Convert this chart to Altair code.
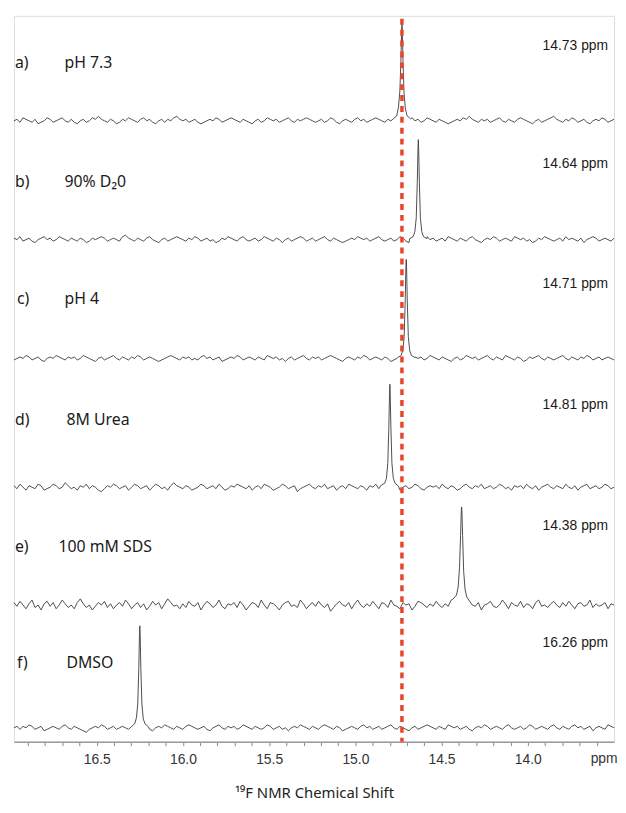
import altair as alt
import pandas as pd
import numpy as np

# ---------------- data ----------------
letters = ["a)", "b)", "c)", "d)", "e)", "f)"]
conditions = ["pH 7.3", "90% D\u20820", "pH 4", "8M Urea", "100 mM SDS", "DMSO"]
shift_labels = ["14.73 ppm", "14.64 ppm", "14.71 ppm", "14.81 ppm", "14.38 ppm", "16.26 ppm"]
peak_ppm = [14.73, 14.635, 14.705, 14.80, 14.384, 16.25]
ref_ppm = 14.73

# peak shape: offsets (ppm) from peak centre and heights (% of full scale)
peak_dx = [-0.05, -0.03, -0.02, -0.012, -0.006, -0.002, 0, 0.002, 0.006, 0.012, 0.02, 0.03, 0.05]
peak_a = [2, 5, 12, 28, 62, 92, 98, 90, 60, 30, 14, 5, 2]
peak_b = [1, 3, 8, 22, 58, 92, 101, 92, 58, 22, 8, 3, 1]
peak_c = [1, 3, 8, 22, 58, 92, 100, 92, 58, 22, 8, 3, 1]
peak_d = [1, 4, 9, 24, 60, 94, 104, 94, 60, 24, 9, 4, 2]
peak_e = [3, 8, 16, 34, 70, 94, 99, 94, 70, 38, 18, 10, 6]
peak_f = [1, 4, 9, 24, 60, 94, 103, 94, 60, 24, 10, 4, 1]

# baseline noise (in px-like noise units) along each trace, left (high ppm) to right
noise_a = [0,1,-1,2,1,0,-1,1,-2,-1,0,2,1,-1,0,1,2,0,-1,1,
           -1,-2,0,1,-1,0,2,1,3,1,0,-1,1,0,-2,-1,1,0,2,1,
           0,-1,1,2,0,1,-1,-2,0,1,-1,1,0,2,3,1,0,1,-1,0,
           1,-1,-2,-1,0,1,0,2,1,-1,0,1,2,1,0,-1,1,0,-1,-2,
           0,1,-1,0,2,1,0,1,-1,0,1,2,0,-1,1,0,1,2,1,0,
           -1,0,1,-1,0,2,1,-1,-2,0,1,0,-1,1,2,0,1,-1,0,1,
           2,1,0,-1,1,0,-2,-1,0,1,-1,1,2,0,1,-1,0,2,1,0,
           -1,1,0,-1,-2,-1,0,1,0,2,1,3,1,0,-1,1,0,1,-1,0,
           1,2,0,-1,1,0,-1,1,2,1,0,-1,-2,0,1,-1,0,1,2,3,
           1,0,-1,1,0,2,1,-1,0,1,-1,-2,0,1,0,2,1,-1,0,1]
noise_b = [1,0,2,-1,0,1,-1,-2,0,1,2,0,1,-1,0,2,1,0,-1,1,
           0,-1,1,0,-2,-1,1,0,1,2,1,-1,0,1,0,-1,2,3,1,0,
           -1,1,0,-1,1,2,0,-1,-2,0,1,-1,0,1,2,1,0,-1,1,0,
           2,1,-1,0,1,-1,0,-2,-1,1,0,2,1,0,-1,1,2,0,-1,0,
           1,-1,0,2,1,0,-1,1,0,-2,0,1,-1,0,1,2,1,-1,0,1,
           -1,0,1,2,0,-1,1,0,-1,-2,-1,0,1,0,2,1,0,1,-1,0,
           1,2,0,-1,0,1,-1,0,2,1,-1,-2,0,1,-1,0,1,2,0,1,
           -1,0,1,-1,2,1,0,-1,1,0,-1,1,2,0,-1,-2,0,1,0,2,
           1,-1,0,1,0,-1,2,1,0,1,-1,0,-2,-1,1,0,2,1,0,-1,
           0,1,-1,2,0,1,0,-1,1,-2,0,1,2,1,-1,0,1,0,-1,1]
noise_c = [-1,0,1,0,2,1,-1,0,1,-1,-2,0,1,0,2,1,0,-1,1,0,
           1,-1,0,2,1,0,-1,-2,0,1,-1,0,1,2,0,-1,1,0,-1,1,
           0,2,1,-1,0,1,0,-1,-2,-1,0,1,2,1,0,-1,1,0,1,-1,
           0,-1,1,2,0,1,-1,0,1,-2,-1,0,1,0,2,1,-1,0,1,0,
           -1,1,0,-1,2,1,0,1,-1,0,-2,0,1,-1,0,1,2,0,-1,1,
           0,1,-1,0,1,2,1,0,-1,-2,0,1,0,-1,1,0,2,1,-1,0,
           1,0,-1,1,0,-2,-1,0,1,2,1,0,-1,1,0,1,-1,0,2,1,
           0,-1,1,0,-1,-2,0,1,-1,0,2,1,0,1,-1,0,1,2,0,-1,
           1,0,-1,2,1,0,-1,1,0,-2,-1,1,0,1,2,0,-1,1,0,-1,
           0,1,2,0,-1,1,0,-1,1,0,2,1,-1,0,1,-1,0,1,0,-1]
noise_d = [1,-1,2,0,-2,1,0,-1,2,1,-2,-1,0,2,1,-1,0,3,1,-1,
           0,-2,1,0,2,-1,1,0,-2,-3,-1,1,0,2,1,-1,0,1,-2,0,
           2,1,-1,0,1,-2,0,2,1,-1,0,-2,1,3,1,0,-1,1,0,-2,
           -1,0,2,1,-1,0,1,-1,2,0,-2,-1,1,0,2,1,0,-1,1,-2,
           0,1,-1,2,1,0,-2,-1,0,2,1,-1,0,1,-3,-1,0,1,2,0,
           -1,1,0,2,-1,0,1,-2,0,1,-1,2,1,0,-1,1,0,-2,1,0,
           2,-1,0,1,-1,0,2,1,-2,0,1,-1,0,2,1,-1,-2,0,1,0,
           1,-1,2,0,-1,1,0,-2,-1,1,2,0,-1,1,0,2,-1,0,1,-1,
           0,2,1,-1,0,-2,1,0,1,-1,2,0,-1,1,-2,0,1,2,0,-1,
           1,0,-1,2,0,-1,1,-2,0,1,2,-1,0,1,-1,0,2,1,-1,0]
noise_e = [2,-1,3,0,-3,1,4,-2,0,-4,1,3,-1,2,-3,0,4,1,-2,0,
           -3,2,5,1,-2,0,-4,-1,2,0,3,-2,1,-3,0,2,-1,4,1,-3,
           0,2,-2,1,-4,-1,3,0,2,-3,1,5,2,-1,0,-3,1,-2,3,0,
           -1,2,-4,0,3,1,-2,0,4,-1,-3,1,0,2,-2,3,0,-4,-1,2,
           1,-2,4,0,-3,2,1,-1,-4,0,2,3,-1,0,-2,4,1,-3,0,2,
           -1,3,0,-2,1,-5,-2,1,3,0,-1,2,-3,1,4,0,-2,1,-1,3,
           0,-3,2,1,-2,4,0,-1,-3,2,0,1,-4,-1,3,2,0,-2,1,-1,
           3,0,-2,1,-1,4,2,-3,0,1,-2,3,0,-1,2,-4,0,1,3,-1,
           -2,0,4,1,-3,2,0,-1,3,-2,1,0,-3,2,4,-1,0,-2,1,3,
           0,-2,2,-1,3,0,-3,1,2,-1,0,4,-2,1,-1,0,2,-3,1,0]
noise_f = [0,1,-1,1,0,2,1,-1,0,1,-2,-1,0,1,0,-1,1,2,0,-1,
           1,0,-1,-2,-3,-1,0,1,0,2,1,-1,0,1,-1,0,1,0,-1,1,
           2,0,-1,1,0,-1,-2,0,1,0,2,1,0,-1,1,0,-1,1,2,1,
           0,-1,0,1,-1,-2,0,1,2,0,-1,1,0,1,-1,0,2,1,0,-1,
           1,0,-1,0,2,1,-1,0,1,-1,0,-2,0,1,0,2,1,0,-1,1,
           0,-1,1,2,1,0,-1,1,0,-2,-1,0,1,0,-1,1,2,0,1,-1,
           0,1,-1,0,1,2,0,-1,1,0,-1,-2,0,1,-1,0,1,2,1,0,
           -1,1,0,-1,2,1,0,1,-1,0,1,-1,-2,0,1,0,2,1,-1,0,
           1,0,-1,1,2,0,-1,0,1,-1,0,2,1,-1,0,1,0,-1,1,2,
           0,-1,1,0,-1,1,2,0,1,-1,0,1,-2,0,1,0,-1,2,1,0]

minor_ticks = [16.9, 16.8, 16.7, 16.6, 16.5, 16.4, 16.3, 16.2, 16.1, 16.0, 15.9, 15.8, 15.7, 15.6,
               15.5, 15.4, 15.3, 15.2, 15.1, 15.0, 14.9, 14.8, 14.7, 14.6, 14.5, 14.4, 14.3, 14.2,
               14.1, 14.0, 13.9, 13.8, 13.7, 13.6]

# ---------------- layout (not data) ----------------
X_MIN, X_MAX = 13.5, 16.98
W, H = 606, 733
Y_TOP = 7.33                       # 100 px per full-scale unit
baselines = [6.27, 5.07, 3.87, 2.57, 1.38, 0.14]
noise_unit = [1.5, 1.5, 1.5, 1.5, 1.25, 1.5]   # px per noise unit
letter_y = [6.85, 5.65, 4.47, 3.25, 1.97, 0.79]
shift_y = [7.03, 5.83, 4.62, 3.40, 2.18, 1.00]
name_x = [51, 51, 51, 53, 45, 53]
letter_x = [1, 1, 3, 1, 1, 3]

peaks = [peak_a, peak_b, peak_c, peak_d, peak_e, peak_f]
noises = [noise_a, noise_b, noise_c, noise_d, noise_e, noise_f]

rows = []
for i, (nz, pk, pc) in enumerate(zip(noises, peaks, peak_ppm)):
    grid = np.linspace(X_MAX, X_MIN, len(nz))
    for x, v in zip(grid, nz):
        if abs(x - pc) > 0.05:
            rows.append({"spec": letters[i], "ppm": float(x),
                         "y": baselines[i] + v * noise_unit[i] / 100.0})
    for dx, h in zip(peak_dx, pk):
        rows.append({"spec": letters[i], "ppm": pc + dx, "y": baselines[i] + h / 100.0})
df = pd.DataFrame(rows)

xscale = alt.Scale(domain=[X_MIN, X_MAX], reverse=True, zero=False, nice=False)
yscale = alt.Scale(domain=[0, Y_TOP], zero=False, nice=False)

label_expr = ("abs(datum.value*2 - round(datum.value*2)) < 0.001 ? format(datum.value, '.1f') : ''")

lines = alt.Chart(df).mark_line(color="#3a3a3a", strokeWidth=0.9, interpolate="linear").encode(
    x=alt.X("ppm:Q", scale=xscale,
            axis=alt.Axis(values=minor_ticks, tickCount=60, labelExpr=label_expr,
                          title="\u00b9\u2079F NMR Chemical Shift",
                          grid=False, domainColor="#9a9a9a", domainWidth=1.5, tickColor="#8a8a8a",
                          tickSize=4, tickWidth=1, labelFont="Liberation Sans", labelFontSize=14,
                          labelColor="#333333", labelPadding=7, labelOverlap=False, labelFlush=False,
                          titleFont="Noto Sans", titleFontSize=15, titleFontWeight="normal",
                          titleColor="#222222", titlePadding=19)),
    y=alt.Y("y:Q", scale=yscale, axis=None),
    detail="spec:N",
    order="ppm:Q",
)

ref_df = pd.DataFrame({"ppm": [ref_ppm]})
ref = alt.Chart(ref_df).mark_rule(color="#e8452c", strokeWidth=3.5, strokeDash=[6, 5]).encode(
    x=alt.X("ppm:Q", scale=xscale),
    y=alt.value(3),
    y2=alt.value(H),
)

layers = [lines, ref]
for i in range(6):
    d = pd.DataFrame({"letter": [letters[i]], "name": [conditions[i]], "shift": [shift_labels[i]],
                      "ly": [letter_y[i]], "sy": [shift_y[i]]})
    layers.append(alt.Chart(d).mark_text(align="left", baseline="middle", font="Noto Sans",
                                         fontSize=16, color="#1a1a1a").encode(
        x=alt.value(letter_x[i]), y=alt.Y("ly:Q", scale=yscale), text="letter:N"))
    layers.append(alt.Chart(d).mark_text(align="left", baseline="middle", font="Noto Sans",
                                         fontSize=16, color="#1a1a1a").encode(
        x=alt.value(name_x[i]), y=alt.Y("ly:Q", scale=yscale), text="name:N"))
    layers.append(alt.Chart(d).mark_text(align="right", baseline="middle", font="Liberation Sans",
                                         fontSize=14, color="#1a1a1a").encode(
        x=alt.value(600), y=alt.Y("sy:Q", scale=yscale), text="shift:N"))

ppm_df = pd.DataFrame({"t": ["ppm"]})
layers.append(alt.Chart(ppm_df).mark_text(align="center", baseline="top", font="Liberation Sans",
                                          fontSize=14, color="#333333").encode(
    x=alt.value(596), y=alt.value(H + 11), text="t:N"))

chart = alt.layer(*layers).properties(
    width=W, height=H,
    padding={"left": 4, "top": 4, "right": 0, "bottom": 0},
).configure_view(stroke=None).configure(background="white")

chart.save("out.html", embed_options={"renderer": "svg", "actions": False})
